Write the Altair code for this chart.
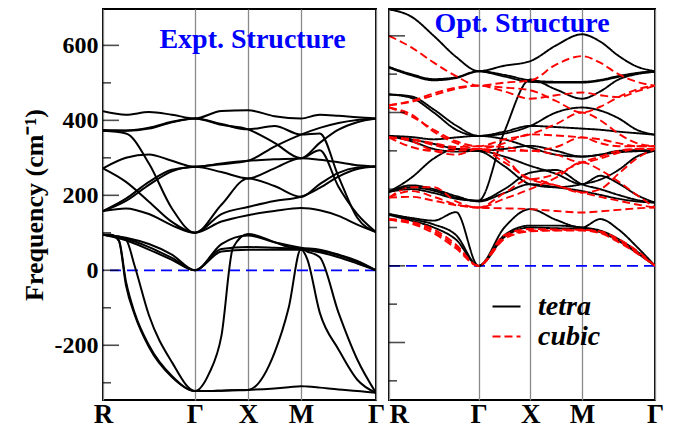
import altair as alt
import pandas as pd

SERIF = "Liberation Serif"

# k-path coordinates (R-Γ-X-M-Γ, cubic BZ distances)
K = [0, 0.433, 0.866, 1.299, 1.732, 2.232, 2.732, 3.232, 3.732, 4.086, 4.439, 4.793, 5.146]
KS = [0, 0.15, 0.30, 0.433, 0.60, 0.866, 1.299, 1.732, 2.0, 2.232, 2.45, 2.732,
      3.232, 3.5, 3.732, 3.85, 4.086, 4.439, 4.793, 5.146]
K_TICKS = [0, 1.732, 2.732, 3.732, 5.146]
K_LABELS = ["R", "Γ", "X", "M", "Γ"]

MAJOR_TICKS = [-200, 0, 200, 400, 600]
MINOR_TICKS = [-300, -100, 100, 300, 500]
ZERO = [0]

EXPT = [
    [424, 415, 422, 415, 405, 425, 427, 411, 405, 415, 412, 408, 405],
    [372, 372, 378, 395, 405, 390, 376, 385, 362, 365, 250, 140, 102],
    [374, 373, 380, 396, 405, 388, 376, 340, 299, 340, 375, 395, 405],
    [272, 300, 309, 292, 276, 285, 292, 296, 299, 320, 223, 150, 102],
    [158, 191, 236, 268, 276, 283, 292, 330, 362, 380, 393, 401, 405],
    [158, 185, 228, 264, 276, 262, 245, 272, 299, 295, 288, 280, 277],
    [372, 365, 285, 165, 100, 175, 245, 225, 196, 230, 260, 274, 277],
    [272, 236, 183, 129, 100, 150, 169, 185, 196, 220, 250, 270, 277],
    [158, 165, 150, 120, 100, 130, 147, 158, 166, 160, 145, 122, 102],
    [95, 87, 70, 42, 0, 57, 62, 60, 57, 52, 40, 22, 0],
    [95, 84, 62, 33, 0, 70, 93, 75, 60, 55, 42, 25, 0],
    [95, 80, 55, 28, 0, 50, 55, 55, 55, 48, 35, 18, 0],
]
EXPT_SOFT = [
    [95, 95, 78, -40, -120, -205, -285, -322, -275, -175, 60, 97, 75, 62, 57, 30, -113, -211, -292, -327],
    [95, 93, 90, 82, 10, -120, -245, -322, -322, -321, -320, -319, -220, -100, 57, 50, 35, -113, -238, -327],
    [95, 95, 80, -30, -115, -200, -282, -322, -322, -321, -320, -319, -315, -312, -309, -310, -313, -318, -322, -327],
]
TETRA = [
    [669, 650, 600, 545, 508, 522, 534, 575, 604, 585, 548, 520, 508],
    [519, 500, 487, 492, 508, 498, 484, 480, 480, 485, 495, 503, 508],
    [517, 497, 484, 490, 507, 494, 480, 478, 478, 483, 493, 502, 507],
    [447, 442, 408, 366, 339, 350, 365, 362, 358, 355, 350, 346, 342],
    [447, 438, 400, 355, 339, 345, 365, 400, 413, 405, 385, 355, 342],
    [339, 336, 330, 335, 339, 330, 309, 290, 285, 290, 300, 302, 300],
    [339, 330, 318, 305, 300, 305, 313, 300, 285, 290, 296, 299, 300],
    [339, 325, 305, 298, 300, 285, 261, 240, 213, 235, 215, 185, 165],
    [193, 230, 280, 305, 300, 260, 213, 205, 213, 225, 250, 285, 300],
    [193, 200, 190, 175, 170, 350, 486, 460, 436, 455, 486, 500, 506],
    [193, 205, 196, 178, 170, 200, 243, 250, 213, 200, 185, 172, 165],
    [193, 210, 200, 182, 168, 190, 213, 205, 195, 185, 175, 168, 165],
    [135, 125, 118, 140, 0, 100, 148, 120, 100, 122, 95, 50, 0],
    [135, 122, 108, 80, 0, 80, 105, 105, 100, 92, 70, 38, 0],
    [133, 118, 100, 68, 0, 75, 100, 98, 97, 88, 65, 34, 0],
]
CUBIC = [
    [600, 570, 530, 495, 470, 478, 483, 525, 547, 530, 500, 480, 470],
    [419, 428, 445, 462, 470, 455, 436, 445, 452, 445, 440, 455, 470],
    [419, 430, 450, 465, 470, 465, 458, 430, 400, 415, 440, 460, 470],
    [413, 390, 355, 325, 312, 330, 343, 370, 400, 380, 345, 320, 312],
    [413, 395, 350, 320, 305, 320, 343, 340, 335, 330, 320, 312, 312],
    [335, 330, 315, 305, 305, 300, 300, 290, 270, 280, 295, 305, 305],
    [335, 325, 300, 290, 305, 280, 226, 240, 270, 285, 300, 305, 305],
    [335, 330, 320, 310, 312, 310, 300, 310, 335, 320, 312, 312, 312],
    [335, 310, 300, 300, 305, 270, 226, 210, 191, 200, 240, 280, 305],
    [178, 205, 205, 168, 152, 190, 226, 210, 191, 180, 170, 160, 152],
    [178, 195, 180, 160, 152, 150, 148, 143, 139, 142, 146, 150, 152],
    [178, 180, 170, 158, 152, 175, 200, 230, 270, 250, 220, 185, 152],
    [122, 115, 95, 55, 0, 80, 96, 95, 94, 90, 70, 40, 0],
    [120, 112, 90, 50, 0, 75, 92, 93, 94, 88, 66, 36, 0],
    [120, 110, 85, 45, 0, 70, 90, 92, 92, 85, 62, 33, 0],
]
SERIES = ["tetra", "cubic"]


def rows(bands, grid, series, prefix):
    out = []
    for i, vals in enumerate(bands):
        for k, f in zip(grid, vals):
            out.append({"series": series, "band": f"{prefix}{i:02d}", "k": k, "f": f})
    return out


df_left = pd.DataFrame(rows(EXPT, K, "expt", "e") + rows(EXPT_SOFT, KS, "expt", "s"))
df_right = pd.DataFrame(rows(TETRA, K, "tetra", "a") + rows(CUBIC, K, "cubic", "b"))

expr = f"'{K_LABELS[-1]}'"
for i in reversed(range(len(K_TICKS) - 1)):
    mid = (K_TICKS[i] + K_TICKS[i + 1]) / 2
    expr = f"datum.value < {mid} ? '{K_LABELS[i]}' : ({expr})"

xscale = alt.Scale(domain=[K_TICKS[0], K_TICKS[-1]], nice=False, zero=False)


def make_x_axis(first_align):
    return alt.Axis(values=K_TICKS, labelExpr=expr, grid=True, gridColor="#8a8a8a",
                    gridWidth=1.3, ticks=False, domain=False, labelFont=SERIF,
                    labelFontSize=27, labelFontWeight="bold", labelColor="black",
                    labelPadding=1, labelFlush=False, labelOverlap=False,
                    labelAlign={"condition": {"test": "datum.value < 0.1",
                                              "value": first_align},
                                "value": "center"},
                    title=None)


y_axis_left = alt.Axis(values=MAJOR_TICKS, ticks=False, domain=False, grid=False,
                       labelExpr="datum.value < 0 ? '-' + abs(datum.value) : '' + datum.value",
                       labelFont=SERIF, labelFontSize=24, labelFontWeight="bold",
                       labelColor="black", labelPadding=5,
                       title="Frequency (cm⁻¹)", titleFont=SERIF, titleFontSize=26,
                       titleFontWeight="bold", titleColor="black", titlePadding=7)

H = 391


def panel_layers(yscale, yaxis):
    zero = alt.Chart(pd.DataFrame({"f": ZERO})).mark_rule(
        color="blue", strokeDash=[11, 6], strokeWidth=1.8).encode(
        y=alt.Y("f:Q", scale=yscale, axis=yaxis))
    major = alt.Chart(pd.DataFrame({"f": MAJOR_TICKS})).mark_tick(
        color="black", size=16, thickness=1.6).encode(
        y=alt.Y("f:Q", scale=yscale, axis=yaxis), x=alt.value(8))
    minor = alt.Chart(pd.DataFrame({"f": MINOR_TICKS})).mark_tick(
        color="black", size=8, thickness=1.6).encode(
        y=alt.Y("f:Q", scale=yscale, axis=yaxis), x=alt.value(4))
    return zero, major, minor


yl = alt.Scale(domain=[-346, 697], nice=False, zero=False)
left_lines = alt.Chart(df_left).mark_line(
    interpolate="monotone", color="black", strokeWidth=2, clip=True).encode(
    x=alt.X("k:Q", scale=xscale, axis=make_x_axis("center")),
    y=alt.Y("f:Q", scale=yl, axis=y_axis_left),
    detail="band:N", order="k:Q")
lz, lmaj, lmin = panel_layers(yl, y_axis_left)
left = alt.layer(lz, left_lines, lmaj, lmin).properties(
    width=273, height=H,
    title=alt.TitleParams("Expt. Structure", color="blue", font=SERIF, fontSize=28,
                          fontWeight="bold", anchor="middle", offset=-45, dx=13))

yr = alt.Scale(domain=[-350, 670], nice=False, zero=False)
leg = alt.Legend(title=None, orient="none", legendX=388, legendY=282,
                 symbolType="stroke", symbolSize=784, symbolStrokeWidth=2.2,
                 labelFont=SERIF, labelFontSize=28, labelFontStyle="italic",
                 labelFontWeight="bold", labelColor="black", labelOffset=16,
                 rowPadding=0)
right_lines = alt.Chart(df_right).mark_line(
    interpolate="monotone", strokeWidth=1.9, clip=True).encode(
    x=alt.X("k:Q", scale=xscale, axis=make_x_axis("left")),
    y=alt.Y("f:Q", scale=yr, axis=None),
    color=alt.Color("series:N", scale=alt.Scale(domain=SERIES, range=["black", "red"]),
                    legend=leg),
    strokeDash=alt.StrokeDash("series:N",
                              scale=alt.Scale(domain=SERIES, range=[[1, 0], [8, 4]]),
                              legend=leg),
    detail="band:N", order="k:Q")
rz, rmaj, rmin = panel_layers(yr, None)
right = alt.layer(rz, right_lines, rmaj, rmin).properties(
    width=266, height=H,
    title=alt.TitleParams("Opt. Structure", color="blue", font=SERIF, fontSize=28,
                          fontWeight="bold", anchor="middle", offset=-29))

chart = alt.hconcat(left, right, spacing=13, bounds="flush").properties(
    padding={"left": 12, "top": 0, "right": 0, "bottom": 0}
).configure_view(stroke="black", strokeWidth=2)

chart.save("out.html", embed_options={"renderer": "svg", "actions": False})
